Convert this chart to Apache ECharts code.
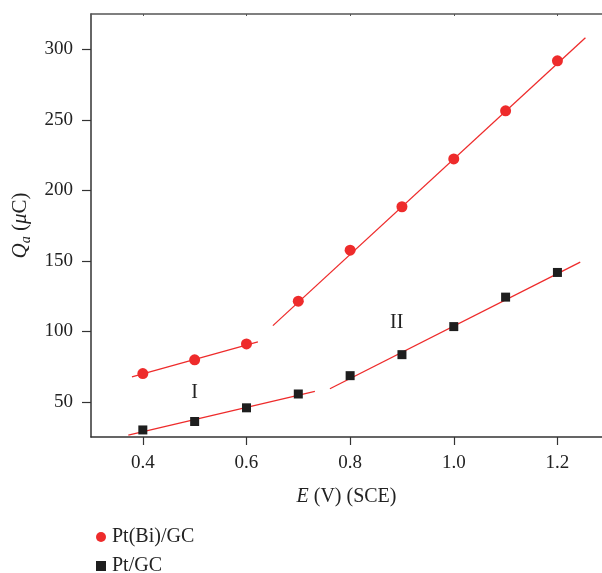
<!DOCTYPE html>
<html>
<head>
<meta charset="utf-8">
<script src="https://cdn.jsdelivr.net/npm/echarts@6/dist/echarts.min.js"></script>
<style>
  html, body { margin: 0; padding: 0; background: #fff; }
  #chart { width: 602px; height: 573px; }
</style>
</head>
<body>
<div id="chart"></div>
<script>
// potentials (V vs SCE)
const potentials = [0.4, 0.5, 0.6, 0.7, 0.8, 0.9, 1.0, 1.1, 1.2];
// anodic charge (uC)
const ptBiGC = [70, 79.7, 91, 121.3, 157.5, 188.3, 222.2, 256.3, 291.8];
const ptGC = [30, 36, 45.7, 55.5, 68.5, 83.4, 103.3, 124.2, 141.7];

// fitted line segments (start / end points)
const fitBiI = [[0.379, 67.6], [0.622, 92.4]];
const fitBiII = [[0.651, 104], [1.254, 308.2]];
const fitPtI = [[0.372, 26.3], [0.732, 57.3]];
const fitPtII = [[0.761, 59.2], [1.244, 149]];

// region labels
const regionLabels = [['I', 0.5, 56.5], ['II', 0.89, 106]];

const xTicks = [0.4, 0.6, 0.8, 1.0, 1.2];
const yTicks = [50, 100, 150, 200, 250, 300];

const serif = 'Liberation Serif';
const red = '#ee2b2b';
const black = '#1e1e1e';
const txt = '#222';

const chart = echarts.init(document.getElementById('chart'));

const fitSeries = [fitBiI, fitBiII, fitPtI, fitPtII].map(seg => ({
  type: 'line',
  data: seg,
  symbol: 'none',
  silent: true,
  lineStyle: { color: red, width: 1.3 },
  z: 1
}));

const options = {
  animation: false,
  grid: { left: 91, top: 14, right: 0, bottom: 136 },
  legend: {
    orient: 'vertical',
    left: 91,
    top: 522,
    height: 80,
    itemGap: 9,
    itemWidth: 12,
    itemHeight: 10,
    itemTextGap: 9,
    textStyle: { fontFamily: serif, fontSize: 20, color: txt },
    data: [
      { name: 'Pt(Bi)/GC', icon: 'circle' },
      { name: 'Pt/GC', icon: 'path://M2,1h8v8h-8z' }
    ]
  },
  xAxis: [{
    type: 'value',
    min: 0.3,
    max: 1.286,
    name: '{i|E} (V) (SCE)',
    nameLocation: 'middle',
    nameGap: 50,
    nameTextStyle: {
      fontFamily: serif, fontSize: 20, color: txt,
      rich: { i: { fontFamily: serif, fontSize: 20, fontStyle: 'italic', color: txt } }
    },
    splitLine: { show: false },
    axisLine: { lineStyle: { color: '#333', width: 1.5 } },
    axisTick: { customValues: xTicks, length: 8, lineStyle: { color: '#333', width: 1.2 } },
    axisLabel: {
      customValues: xTicks,
      formatter: v => v.toFixed(1),
      fontFamily: serif, fontSize: 19, color: txt, margin: 17
    }
  }, {
    type: 'value',
    position: 'top',
    min: 0.3,
    max: 1.286,
    splitLine: { show: false },
    axisLine: { onZero: false, lineStyle: { color: '#555', width: 1.5 } },
    axisTick: { customValues: xTicks, inside: true, length: 2, lineStyle: { color: '#555' } },
    axisLabel: { show: false }
  }],
  yAxis: {
    type: 'value',
    min: 25,
    max: 325,
    name: '{i|Q}{s|a} ({i|μ}C)',
    nameLocation: 'middle',
    nameGap: 55,
    nameTextStyle: {
      fontFamily: serif, fontSize: 21, color: txt,
      rich: {
        i: { fontFamily: serif, fontSize: 21, fontStyle: 'italic', color: txt },
        s: { fontFamily: serif, fontSize: 14, fontStyle: 'italic', color: txt, padding: [12, 0, 0, 0] }
      }
    },
    splitLine: { show: false },
    axisLine: { lineStyle: { color: '#333', width: 1.5 } },
    axisTick: { customValues: yTicks, length: 9, lineStyle: { color: '#333', width: 1.2 } },
    axisLabel: {
      customValues: yTicks,
      fontFamily: serif, fontSize: 19, color: txt, margin: 18
    }
  },
  series: [
    ...fitSeries,
    {
      name: 'Pt(Bi)/GC',
      type: 'scatter',
      symbol: 'circle',
      symbolSize: 11,
      itemStyle: { color: red, opacity: 1 },
      data: potentials.map((x, i) => [x, ptBiGC[i]]),
      z: 3
    },
    {
      name: 'Pt/GC',
      type: 'scatter',
      symbol: 'rect',
      symbolSize: 9,
      itemStyle: { color: black, opacity: 1 },
      data: potentials.map((x, i) => [x, ptGC[i]]),
      z: 3
    },
    {
      type: 'scatter',
      symbolSize: 0,
      silent: true,
      itemStyle: { opacity: 1 },
      data: regionLabels.map(r => ({ value: [r[1], r[2]], name: r[0] })),
      label: {
        show: true,
        position: 'inside',
        formatter: p => p.name,
        fontFamily: serif,
        fontSize: 20,
        color: txt
      }
    }
  ]
};

chart.setOption(options);
</script>
</body>
</html>
